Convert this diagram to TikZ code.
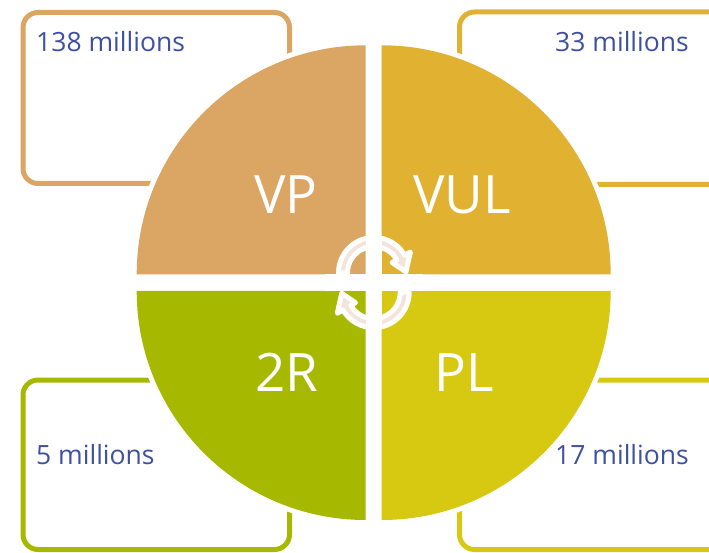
\documentclass[tikz,border=0pt]{standalone}
\usepackage{fontspec}
\setmainfont{Open Sans}
\definecolor{vpcol}{RGB}{219,165,100}
\definecolor{vulcol}{RGB}{225,178,50}
\definecolor{rrcol}{RGB}{166,184,0}
\definecolor{plcol}{RGB}{215,200,17}
\definecolor{numblue}{RGB}{62,81,160}
\definecolor{arrowtint}{RGB}{242,228,218}
\begin{document}
\begin{tikzpicture}[x=1pt,y=1pt,
  infobox/.style={line width=5pt, rounded corners=15pt},
  quadlabel/.style={text=white, font=\fontsize{53}{60}\selectfont, inner sep=0pt, anchor=base},
  amount/.style={text=numblue, font=\fontsize{26.5}{30}\selectfont, inner sep=0pt},
  halo/.style={draw=white, line width=10pt},
  arrowbody/.style={fill=arrowtint, draw=white, line width=5pt, line join=round},
  pics/cyclearrow/.style={code={
    \filldraw[arrowbody] (180:35.5) arc[start angle=180,end angle=30,radius=35.5]
      -- (30:42) -- (2:32) -- (30:21) -- (30:26.5)
      arc[start angle=30,end angle=180,radius=26.5] -- cycle;
  }}]
\useasboundingbox (0,0) rectangle (709,552);
\clip (0,0) rectangle (709,552);

% value boxes behind the circle
\draw[infobox, vpcol]  (23,368.5) rectangle (289.5,539.5);
\draw[infobox, vulcol] (459.5,367.5) rectangle (726,540);
\draw[infobox, rrcol]  (23,2.5) rectangle (289.5,172);
\draw[infobox, plcol]  (459.5,2.5) rectangle (726,172);

% quadrant corners
\coordinate (qtl) at (365.7,277.7);
\coordinate (qtr) at (381.7,277.7);
\coordinate (qbl) at (365.7,261);
\coordinate (qbr) at (381.7,261);

% white halo around the quadrants
\path[halo] (qtl) -- ++(0,229) arc[start angle=90,end angle=180,radius=229] -- cycle;
\path[halo] (qtr) -- ++(229,0) arc[start angle=0,end angle=90,radius=229] -- cycle;
\path[halo] (qbl) -- ++(-229,0) arc[start angle=180,end angle=270,radius=229] -- cycle;
\path[halo] (qbr) -- ++(0,-229) arc[start angle=270,end angle=360,radius=229] -- cycle;

% quadrants
\fill[vpcol]  (qtl) -- ++(0,229) arc[start angle=90,end angle=180,radius=229] -- cycle;
\fill[vulcol] (qtr) -- ++(229,0) arc[start angle=0,end angle=90,radius=229] -- cycle;
\fill[rrcol]  (qbl) -- ++(-229,0) arc[start angle=180,end angle=270,radius=229] -- cycle;
\fill[plcol]  (qbr) -- ++(0,-229) arc[start angle=270,end angle=360,radius=229] -- cycle;

% cycle arrows in the middle
\pic at (374,279) {cyclearrow};
\pic[rotate=180] at (373.7,259.8) {cyclearrow};

% gaps between the quadrants
\fill[white] (qbl |- 0,225) rectangle (qtr |- 0,315);
\fill[white] (325,261) rectangle (423,277.7);

% quadrant labels
\node[quadlabel] (vp)  at (286,338.7) {VP};
\node[quadlabel] (vul) at (462,338.7) {VUL};
\node[quadlabel] (rr)  at (287,161) {2R};
\node[quadlabel] (pl)  at (464,161) {PL};

% amounts
\node[amount, anchor=base west] (a138) at (36,500) {138 millions};
\node[amount, anchor=base east] (a33)  at (689,500) {33 millions};
\node[amount, anchor=base west] (a5)   at (36,88) {5 millions};
\node[amount, anchor=base east] (a17)  at (689,88) {17 millions};
\end{tikzpicture}
\end{document}
